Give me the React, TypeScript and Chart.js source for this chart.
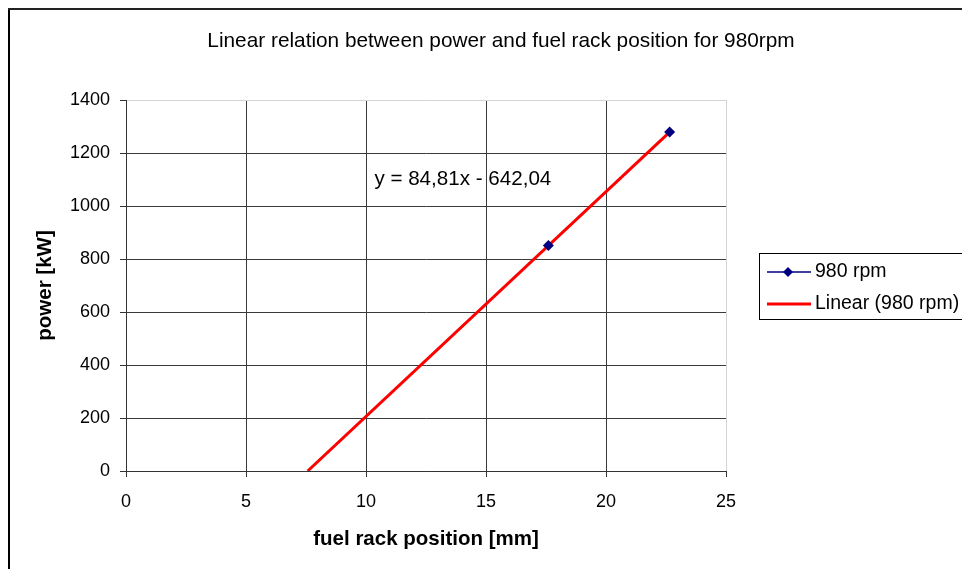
import React, { useEffect, useRef } from "react";
import { Chart, registerables } from "chart.js";

Chart.register(...registerables);

const FONT = "'Liberation Sans', Arial, sans-serif";

const chartTitle = "Linear relation between power and fuel rack position for 980rpm";
const xAxisTitle = "fuel rack position [mm]";
const yAxisTitle = "power [kW]";
const seriesLabel = "980 rpm";
const trendLabel = "Linear (980 rpm)";

const fuelRackPosition = [17.6, 22.65];
const powerKW = [850.6, 1279];

const trendSlope = 84.81;
const trendIntercept = -642.04;
const trendRange = [7.57, 22.65];
const equationText = "y = 84,81x - 642,04";
const equationAnchor = [10.35, 1100];

const xTicks = [0, 5, 10, 15, 20, 25];
const yTicks = [0, 200, 400, 600, 800, 1000, 1200, 1400];

const GRID_DARK = "#3a3a3a";
const GRID_LIGHT = "#d4d4d4";

const decorPlugin = {
  id: "decor",
  afterDraw(chart: any) {
    const ctx = chart.ctx as CanvasRenderingContext2D;
    ctx.save();
    // outer chart border (left and top visible)
    ctx.fillStyle = "#000";
    ctx.fillRect(8, 8, 2, chart.height - 8);
    ctx.fillStyle = "#222";
    ctx.fillRect(8, 8, chart.width - 8, 2);

    // title
    ctx.fillStyle = "#000";
    ctx.font = `20.8px ${FONT}`;
    ctx.textAlign = "center";
    ctx.textBaseline = "middle";
    ctx.fillText(chartTitle, 501, 41);

    // trendline equation
    const xs = chart.scales.x;
    const ys = chart.scales.y;
    ctx.font = `20.6px ${FONT}`;
    ctx.textAlign = "left";
    ctx.fillText(
      equationText,
      xs.getPixelForValue(equationAnchor[0]),
      ys.getPixelForValue(equationAnchor[1])
    );

    // legend
    const ds = chart.data.datasets;
    const bx = 759.5, by = 253.5, bw = 220, bh = 66;
    ctx.strokeStyle = "#000";
    ctx.lineWidth = 1;
    ctx.strokeRect(bx, by, bw, bh);
    ctx.font = `19.5px ${FONT}`;
    const rows = [272, 304];
    ds.forEach((d: any, i: number) => {
      const y = rows[i];
      ctx.strokeStyle = d.borderColor;
      ctx.lineWidth = i === 0 ? 1.5 : 3;
      ctx.beginPath();
      ctx.moveTo(767, y);
      ctx.lineTo(811, y);
      ctx.stroke();
      if (d.pointRadius > 0) {
        const r = 5;
        const cx = 788;
        ctx.fillStyle = d.backgroundColor;
        ctx.beginPath();
        ctx.moveTo(cx, y - r);
        ctx.lineTo(cx + r, y);
        ctx.lineTo(cx, y + r);
        ctx.lineTo(cx - r, y);
        ctx.closePath();
        ctx.fill();
      }
      ctx.fillStyle = "#000";
      ctx.textAlign = "left";
      ctx.textBaseline = "middle";
      ctx.fillText(d.label, 815, y);
    });
    ctx.restore();
  },
};

export default function App() {
  const ref = useRef<HTMLCanvasElement>(null);

  useEffect(() => {
    const seriesPoints = fuelRackPosition.map((x, i) => ({ x, y: powerKW[i] }));
    const trendPoints = trendRange.map((x) => ({ x, y: trendSlope * x + trendIntercept }));

    const chart = new Chart(ref.current as HTMLCanvasElement, {
      type: "scatter",
      data: {
        datasets: [
          {
            label: seriesLabel,
            data: seriesPoints,
            showLine: false,
            borderColor: "#000080",
            backgroundColor: "#000080",
            borderWidth: 1,
            pointStyle: "rectRot",
            pointRadius: 5.5,
            pointBorderWidth: 0,
            order: 0,
          },
          {
            label: trendLabel,
            data: trendPoints,
            showLine: true,
            borderColor: "#ff0000",
            backgroundColor: "#ff0000",
            borderWidth: 3,
            pointRadius: 0,
            order: 1,
          },
        ],
      },
      options: {
        responsive: false,
        animation: false,
        devicePixelRatio: 1,
        layout: { padding: { top: 100, right: 236, left: 0, bottom: 0 } },
        plugins: {
          legend: { display: false },
          tooltip: { enabled: false },
          title: { display: false },
        },
        scales: {
          x: {
            type: "linear",
            min: 0,
            max: 25,
            afterBuildTicks: (s: any) => {
              s.ticks = xTicks.map((v) => ({ value: v }));
            },
            afterFit: (s: any) => {
              s.height = 98;
            },
            ticks: {
              padding: 14,
              color: "#000",
              maxRotation: 0,
              font: { family: FONT, size: 18 },
              callback: (v: any) => String(v),
            },
            grid: {
              color: (c: any) => (c.tick && c.tick.value === 25 ? GRID_LIGHT : GRID_DARK),
              tickColor: "#333",
              tickLength: 6,
              lineWidth: 1,
            },
            border: { color: "#333", width: 1 },
            title: {
              display: true,
              text: xAxisTitle,
              color: "#000",
              font: { family: FONT, size: 20.5, weight: "bold" },
              padding: { top: 0, bottom: 17 },
            },
          },
          y: {
            type: "linear",
            min: 0,
            max: 1400,
            afterBuildTicks: (s: any) => {
              s.ticks = yTicks.map((v) => ({ value: v }));
            },
            afterFit: (s: any) => {
              s.width = 126;
            },
            ticks: {
              padding: 10,
              color: "#000",
              font: { family: FONT, size: 18 },
              callback: (v: any) => String(v),
            },
            grid: {
              color: (c: any) => (c.tick && c.tick.value === 1400 ? GRID_LIGHT : GRID_DARK),
              tickColor: "#333",
              tickLength: 6,
              lineWidth: 1,
            },
            border: { color: "#333", width: 1 },
            title: {
              display: true,
              text: yAxisTitle,
              color: "#000",
              font: { family: FONT, size: 20.5, weight: "bold" },
              padding: { top: 33, bottom: 0 },
            },
          },
        },
      },
      plugins: [decorPlugin],
    } as any);

    return () => chart.destroy();
  }, []);

  return (
    <div
      style={{
        position: "fixed",
        left: 0,
        top: 0,
        width: 962,
        height: 569,
        background: "#fff",
        overflow: "hidden",
      }}
    >
      <canvas ref={ref} width={962} height={569} style={{ display: "block" }} />
    </div>
  );
}
